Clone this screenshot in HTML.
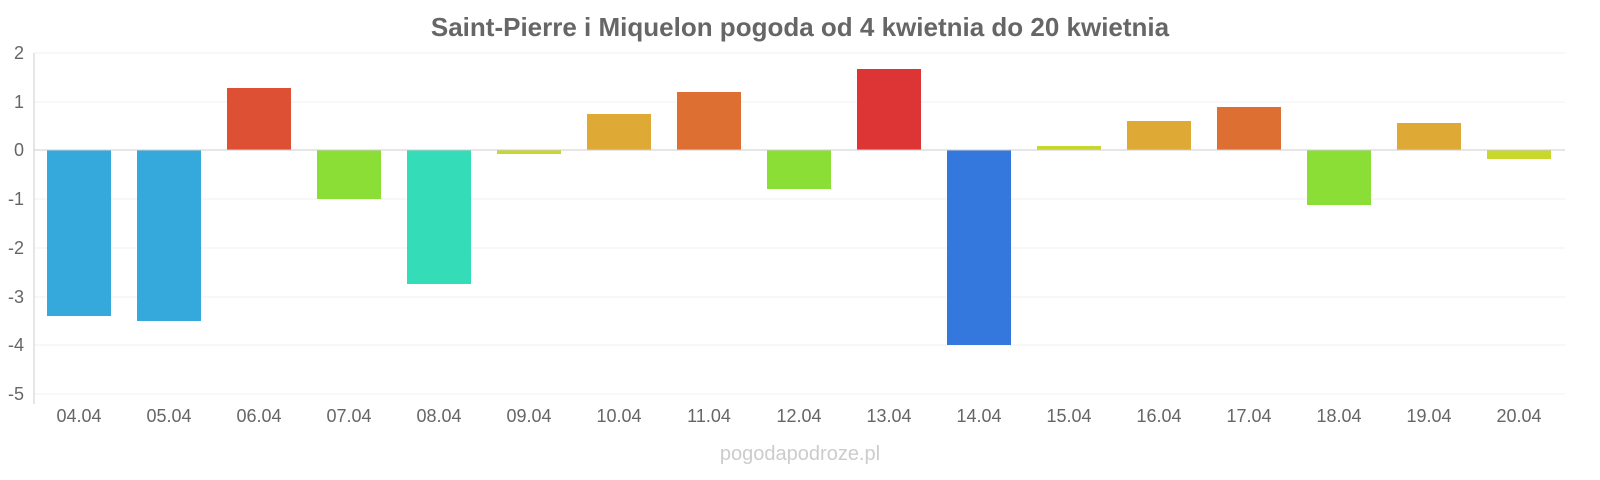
<!DOCTYPE html>
<html><head><meta charset="utf-8"><style>
html,body{margin:0;padding:0;background:#fff;overflow:hidden;width:1600px;height:480px;}
svg{display:block;font-family:"Liberation Sans",sans-serif;}
</style></head><body>
<svg width="1600" height="480" viewBox="0 0 1600 480">
<text x="800" y="36" text-anchor="middle" font-size="26" font-weight="bold" fill="#666">Saint-Pierre i Miquelon pogoda od 4 kwietnia do 20 kwietnia</text>
<g stroke="#f0f0f0" stroke-width="1">
<line x1="34" x2="1565" y1="53" y2="53"/><line x1="34" x2="1565" y1="102" y2="102"/>
<line x1="34" x2="1565" y1="199" y2="199"/><line x1="34" x2="1565" y1="248" y2="248"/>
<line x1="34" x2="1565" y1="297" y2="297"/><line x1="34" x2="1565" y1="345" y2="345"/>
<line x1="34" x2="1565" y1="394" y2="394"/>
</g>
<line x1="34" x2="34" y1="53" y2="404" stroke="#ccc"/>
<g font-size="18" fill="#666" text-anchor="end">
<text x="24" y="59">2</text><text x="24" y="108">1</text><text x="24" y="156">0</text>
<text x="24" y="205">-1</text><text x="24" y="254">-2</text><text x="24" y="303">-3</text>
<text x="24" y="351">-4</text><text x="24" y="400">-5</text>
</g>
<g>
<rect x="47" y="150" width="64" height="166" fill="#35a8dc"/>
<rect x="137" y="150" width="64" height="171" fill="#35a8dc"/>
<rect x="227" y="88" width="64" height="62" fill="#dd5033"/>
<rect x="317" y="150" width="64" height="49" fill="#8ade35"/>
<rect x="407" y="150" width="64" height="134" fill="#35dcb8"/>
<rect x="497" y="150" width="64" height="4" fill="#c9d62e"/>
<rect x="587" y="114" width="64" height="36" fill="#dea935"/>
<rect x="677" y="92" width="64" height="58" fill="#dd6f33"/>
<rect x="767" y="150" width="64" height="39" fill="#8ade35"/>
<rect x="857" y="69" width="64" height="81" fill="#dd3535"/>
<rect x="947" y="150" width="64" height="195" fill="#3578dd"/>
<rect x="1037" y="146" width="64" height="4" fill="#c9d62e"/>
<rect x="1127" y="121" width="64" height="29" fill="#dea935"/>
<rect x="1217" y="107" width="64" height="43" fill="#dd6f33"/>
<rect x="1307" y="150" width="64" height="55" fill="#8ade35"/>
<rect x="1397" y="123" width="64" height="27" fill="#dea935"/>
<rect x="1487" y="150" width="64" height="9" fill="#c9d62e"/>
</g>
<line x1="34" x2="1565" y1="150" y2="150" stroke="#ccc"/>
<g font-size="18" fill="#666" text-anchor="middle">
<text x="79" y="422">04.04</text><text x="169" y="422">05.04</text><text x="259" y="422">06.04</text>
<text x="349" y="422">07.04</text><text x="439" y="422">08.04</text><text x="529" y="422">09.04</text>
<text x="619" y="422">10.04</text><text x="709" y="422">11.04</text><text x="799" y="422">12.04</text>
<text x="889" y="422">13.04</text><text x="979" y="422">14.04</text><text x="1069" y="422">15.04</text>
<text x="1159" y="422">16.04</text><text x="1249" y="422">17.04</text><text x="1339" y="422">18.04</text>
<text x="1429" y="422">19.04</text><text x="1519" y="422">20.04</text>
</g>
<text x="800" y="460" text-anchor="middle" font-size="20" fill="#ccc">pogodapodroze.pl</text>
</svg>
</body></html>
